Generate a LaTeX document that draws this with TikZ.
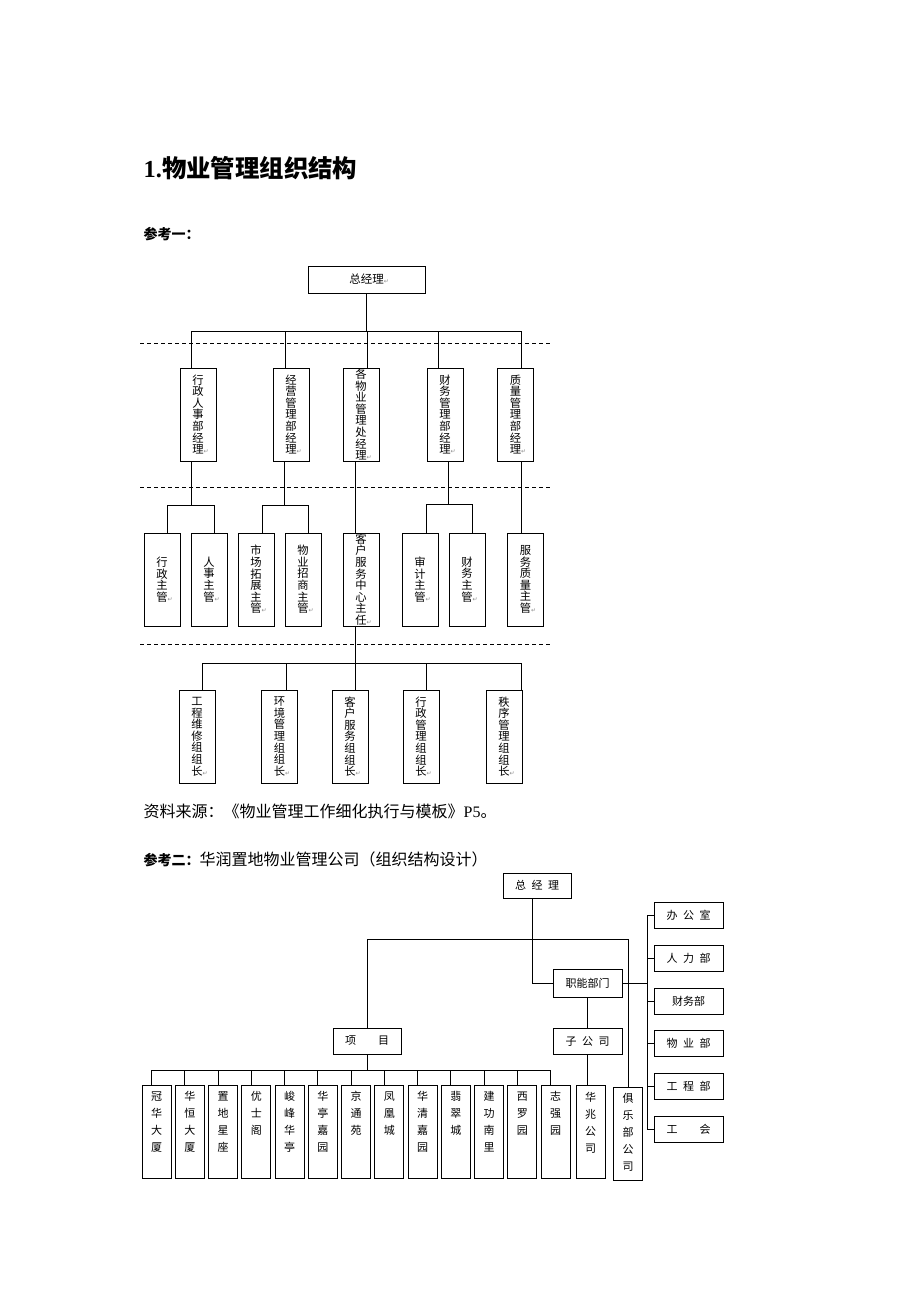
\documentclass[tikz,border=0pt]{standalone}
\usepackage{fontspec}
\setmainfont{Liberation Serif}
\newfontfamily\cjk{Noto Sans CJK SC}
\newfontfamily\symf{DejaVu Sans}
\usetikzlibrary{positioning}

\newcommand\pmk{\rlap{\color{black!45}\symf\fontsize{6}{6}\selectfont ↵}}
\newcommand\colt[1]{\parbox[c][80pt][t]{14pt}{\centering #1}}

\begin{document}
\begin{tikzpicture}[x=1pt, y=-1pt, line width=0.75pt,
    vbox/.style={draw, inner sep=0pt, minimum width=36pt, minimum height=93pt, align=center,
      font=\cjk\fontsize{11.3}{11.6}\selectfont},
    hbox/.style={draw, inner sep=0pt, minimum width=69pt, minimum height=26pt,
      font=\cjk\fontsize{11}{13}\selectfont},
    pbox/.style={draw, inner sep=0pt, minimum width=29pt, minimum height=93pt,
      font=\cjk\fontsize{11}{17}\selectfont},
    sep/.style={dash pattern=on 4pt off 3pt, line width=0.6pt}
  ]
  \path[use as bounding box, fill=white] (0,0) rectangle (920,1302);

  \node[anchor=base west, font=\fontsize{24.4}{26}\selectfont\bfseries] (title) at (140,177) {1.{\cjk 物业管理组织结构}};
  \node[anchor=base west, font=\cjk\bfseries\fontsize{14}{16}\selectfont] (ref1) at (140,239) {参考一：};
  \node[anchor=base west, font=\cjk\fontsize{16}{18}\selectfont] (src) at (140,817) {资料来源：《物业管理工作细化执行与模板》{\rmfamily P5}。};
  \node[anchor=base west, font=\cjk\fontsize{16}{18}\selectfont] (ref2) at (140,865) {{\bfseries\fontsize{14}{16}\selectfont 参考二：}华润置地物业管理公司（组织结构设计）};

  % chart one
  \node[draw, inner sep=0pt, minimum width=117pt, minimum height=27pt, font=\cjk\fontsize{11.5}{13}\selectfont] (gm) at (366.5,279.5) {总经理\pmk};
  \foreach \n/\x/\lbl in {ma/198/{行\\政\\人\\事\\部\\经\\理}, mb/291/{经\\营\\管\\理\\部\\经\\理},
      mc/361/{各\\物\\业\\管\\理\\处\\经\\理}, md/445/{财\\务\\管\\理\\部\\经\\理}, me/515.5/{质\\量\\管\\理\\部\\经\\理}}
    \node[vbox] (\n) at (\x,414.5) {\lbl\pmk};
  \foreach \n/\x/\lbl in {sa/162/{行\\政\\主\\管}, sb/209/{人\\事\\主\\管}, sc/256/{市\\场\\拓\\展\\主\\管},
      sd/303/{物\\业\\招\\商\\主\\管}, se/361/{客\\户\\服\\务\\中\\心\\主\\任}, sf/420/{审\\计\\主\\管},
      sg/467/{财\\务\\主\\管}, sh/525.5/{服\\务\\质\\量\\主\\管}}
    \node[vbox] (\n) at (\x,579.5) {\lbl\pmk};
  \foreach \n/\x/\lbl in {ga/197/{工\\程\\维\\修\\组\\组\\长}, gb/279.5/{环\\境\\管\\理\\组\\组\\长},
      gc/350/{客\\户\\服\\务\\组\\组\\长}, gd/421/{行\\政\\管\\理\\组\\组\\长}, ge/504/{秩\\序\\管\\理\\组\\组\\长}}
    \node[vbox] (\n) at (\x,736.5) {\lbl\pmk};

  \foreach \y in {343,487,644} \draw[sep] (140,\y) -- (552,\y);

  \draw (gm.south) -- ++(0,38) coordinate (b1);
  \foreach \n/\d in {ma/-7,mb/-6,mc/6,md/-7,me/5.5} \draw ([xshift=\d pt]\n.north) |- (b1);
  \draw ([xshift=-7pt]ma.south) -- ++(0,44) coordinate (b2a);
  \draw ([xshift=5pt]sa.north) |- (b2a);
  \draw ([xshift=5pt]sb.north) |- (b2a);
  \draw ([xshift=-7pt]mb.south) -- ++(0,44) coordinate (b2b);
  \draw ([xshift=6pt]sc.north) |- (b2b);
  \draw ([xshift=5pt]sd.north) |- (b2b);
  \draw ([xshift=-6pt]mc.south) -- ([xshift=-6pt]se.north);
  \draw ([xshift=3pt]md.south) -- ++(0,43) coordinate (b2d);
  \draw ([xshift=6pt]sf.north) |- (b2d);
  \draw ([xshift=5pt]sg.north) |- (b2d);
  \draw ([xshift=5.5pt]me.south) -- ([xshift=-4.5pt]sh.north);
  \draw ([xshift=-6pt]se.south) -- ++(0,37) coordinate (b3);
  \foreach \n/\d in {ga/5,gb/6.5,gc/5,gd/5,ge/17} \draw ([xshift=\d pt]\n.north) |- (b3);

  % chart two
  \node[hbox, minimum width=68pt, minimum height=25pt] (gm2) at (537,885.5) {总\enspace 经\enspace 理};
  \node[hbox, minimum height=28pt] (znbm) at (587.5,983) {职能部门};
  \node[hbox] (zgs) at (587.5,1041.5) {子\enspace 公\enspace 司};
  \node[hbox, minimum width=68pt] (xm) at (367,1041) {项\qquad 目};
  \node[hbox] (bgs) at (688.5,915.5) {办\enspace 公\enspace 室};
  \node[hbox, below=16pt of bgs] (rlb) {人\enspace 力\enspace 部};
  \node[hbox, below=16pt of rlb] (cwb) {财务部};
  \node[hbox, below=16pt of cwb] (wyb) {物\enspace 业\enspace 部};
  \node[hbox, below=16pt of wyb] (gcb) {工\enspace 程\enspace 部};
  \node[hbox, below=16pt of gcb] (gh) {工\qquad 会};

  \foreach \lbl [count=\i from 0] in {冠\\华\\大\\厦, 华\\恒\\大\\厦, 置\\地\\星\\座, 优\\士\\阁, 峻\\峰\\华\\亭,
      华\\亭\\嘉\\园, 京\\通\\苑, 凤\\凰\\城, 华\\清\\嘉\\园, 翡\\翠\\城, 建\\功\\南\\里, 西\\罗\\园, 志\\强\\园}
    \node[pbox] (p\i) at (156.5+33.25*\i,1131.5) {\colt{\lbl}};
  \node[pbox] (hz) at (590.5,1132) {\colt{华\\兆\\公\\司}};
  \node[pbox] (jlb) at (628,1133.5) {\colt{俱\\乐\\部\\公\\司}};

  \coordinate (hb) at (500,939);
  \coordinate (rb) at (647,0);
  \draw ([xshift=-5pt]gm2.south) |- (znbm.west);
  \draw (xm.north) |- (hb) -| (jlb.north);
  \draw (znbm.south) -- (zgs.north);
  \draw (zgs.south) -- (zgs.south |- hz.north);
  \draw (znbm.east) -- (znbm.east -| rb);
  \draw (bgs.west) -- (bgs.west -| rb) |- (gh.west);
  \foreach \n in {rlb,cwb,wyb,gcb} \draw (\n.west) -- (\n.west -| rb);
  \draw (xm.south) -- ++(0,16) coordinate (pb);
  \foreach \i in {0,...,12} \draw ([xshift=-5pt]p\i.north) |- (pb);
\end{tikzpicture}
\end{document}
